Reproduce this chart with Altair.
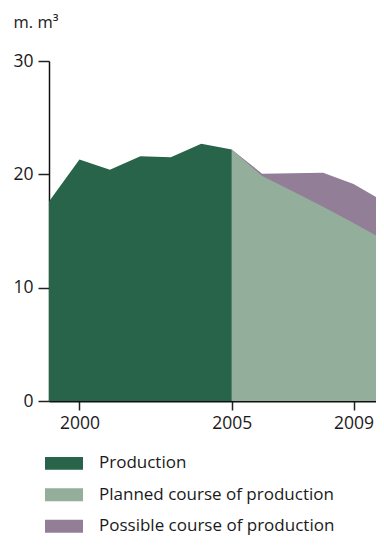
import altair as alt
import pandas as pd

# Data
prod_years = [1999, 2000, 2001, 2002, 2003, 2004, 2005]
prod_values = [17.6, 21.3, 20.4, 21.6, 21.5, 22.7, 22.2]

plan_years = [2005, 2006, 2007, 2008, 2009, 2010]
plan_values = [22.2, 19.85, 18.5, 17.15, 15.7, 14.2]

poss_years = [2005, 2006, 2007, 2008, 2009, 2010]
poss_values = [22.2, 20.05, 20.1, 20.15, 19.15, 17.6]

series_names = ["Production", "Planned course of production", "Possible course of production"]
series_colors = ["#28644a", "#93af9b", "#927e97"]

x_ticks = [2000, 2005, 2009]
y_ticks = [0, 10, 20, 30]

FONT = "Open Sans"
TXT = "#1a1a1a"

def frame(years, values, name):
    return pd.DataFrame({"year": years, "value": values, "series": [name] * len(years)})

x_enc = alt.X("year:Q",
              scale=alt.Scale(domain=[1999, 2010], nice=False, zero=False),
              axis=alt.Axis(values=x_ticks, format="d", title=None, grid=False,
                            labelFontSize=17.5, labelColor=TXT, labelPadding=4,
                            tickSize=9, tickColor="#222222", tickWidth=1.5,
                            domainColor="#111111", domainWidth=2, labelFont=FONT))
y_enc = alt.Y("value:Q",
              scale=alt.Scale(domain=[0, 30], nice=False),
              axis=alt.Axis(values=y_ticks, grid=False, title="m. m³",
                            titleAngle=0, titleX=-36, titleY=-34, titleAlign="left",
                            titleBaseline="alphabetic", titleFontSize=16.5,
                            titleFontWeight="normal", titleColor=TXT, titleFont=FONT,
                            labelFontSize=17.5, labelColor=TXT, labelPadding=5,
                            tickSize=11, tickColor="#222222", tickWidth=1.5,
                            domainColor="#111111", domainWidth=1.5, labelFont=FONT))
color_enc = alt.Color("series:N",
                      scale=alt.Scale(domain=series_names, range=series_colors),
                      legend=alt.Legend(title=None, orient="none", legendX=-4, legendY=383.4,
                                        direction="vertical",
                                        symbolType="M-1,-0.34L1,-0.34L1,0.34L-1,0.34Z",
                                        symbolSize=1444, symbolStrokeWidth=0,
                                        symbolOpacity=1,
                                        labelFontSize=17, labelFont=FONT,
                                        labelColor=TXT, labelOffset=16,
                                        rowPadding=4.4, padding=0, labelLimit=400))

def layer(years, values, name):
    return alt.Chart(frame(years, values, name)).mark_area(opacity=1).encode(
        x=x_enc, y=y_enc, color=color_enc
    )

chart = alt.layer(
    layer(poss_years, poss_values, series_names[2]),
    layer(plan_years, plan_values, series_names[1]),
    layer(prod_years, prod_values, series_names[0]),
).properties(
    width=335, height=340,
    padding={"left": 41, "top": 53, "right": -8, "bottom": 138},
    autosize=alt.AutoSizeParams(type="none"),
).configure(background="white").configure_view(stroke=None)

chart.save("out.html", embed_options={"renderer": "svg", "actions": False})
